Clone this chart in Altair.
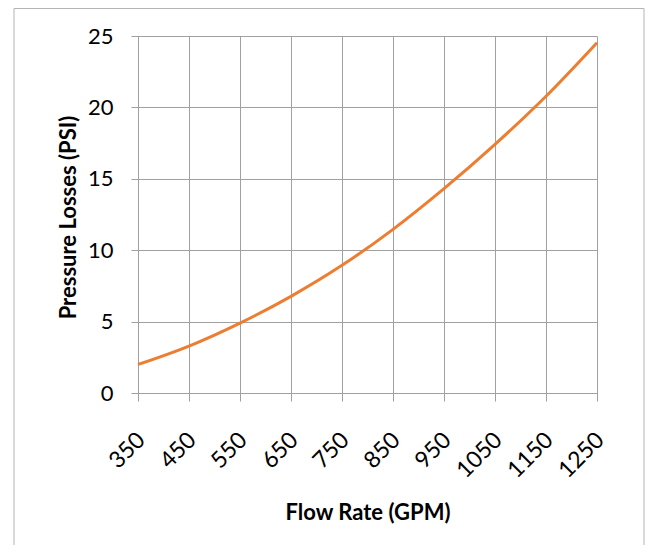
import altair as alt
import pandas as pd

flow_rate = [350, 450, 550, 650, 750, 850, 950, 1050, 1150, 1250]
pressure_loss = [2.0, 3.29, 4.90, 6.77, 8.94, 11.46, 14.31, 17.41, 20.78, 24.53]
x_ticks = [350, 450, 550, 650, 750, 850, 950, 1050, 1150, 1250]
y_ticks = [0, 5, 10, 15, 20, 25]

df = pd.DataFrame({"flow": flow_rate, "psi": pressure_loss})

FONT = "Lato"
GRID = "#a0a0a0"

line = alt.Chart(df).mark_line(color="#ED7D31", strokeWidth=3, interpolate="monotone").encode(
    x=alt.X(
        "flow:Q",
        scale=alt.Scale(domain=[350, 1250], nice=False, zero=False),
        axis=alt.Axis(
            values=x_ticks,
            format="d",
            title="Flow Rate (GPM)",
            labelAngle=-45,
            labelAlign="right",
            labelBaseline="middle",
            labelPadding=35,
            labelOffset=3,
            labelOverlap=False,
            labelFlush=False,
            labelFontSize=23,
            tickSize=8,
            titleY=126,
            titleBaseline="alphabetic",
        ),
    ),
    y=alt.Y(
        "psi:Q",
        scale=alt.Scale(domain=[0, 25], nice=False),
        axis=alt.Axis(
            values=y_ticks,
            title="Pressure Losses (PSI)",
            tickSize=7,
            labelPadding=18,
            labelOverlap=False,
            titleX=-63,
            titleY=181,
            titleBaseline="alphabetic",
        ),
    ),
)

frame = alt.Chart(pd.DataFrame({"a": [0]})).mark_rect(
    fillOpacity=0, stroke="#b4b4b4", strokeWidth=1, clip=False
).encode(
    x=alt.value(-124),
    x2=alt.value(506),
    y=alt.value(-27.5),
    y2=alt.value(540),
)

chart = alt.layer(frame, line).properties(
    width=459,
    height=357,
    padding={"left": 130, "top": 28, "right": 50, "bottom": 152},
    autosize=alt.AutoSizeParams(type="none"),
).configure_view(stroke=None).configure_axis(
    grid=True,
    gridColor=GRID,
    gridWidth=1,
    domainColor=GRID,
    tickColor=GRID,
    labelFont=FONT,
    labelFontSize=22,
    labelColor="#000000",
    titleFont=FONT,
    titleFontSize=22,
    titleFontWeight="bold",
    titleColor="#000000",
)

chart.save("out.html", embed_options={"renderer": "svg", "actions": False})
